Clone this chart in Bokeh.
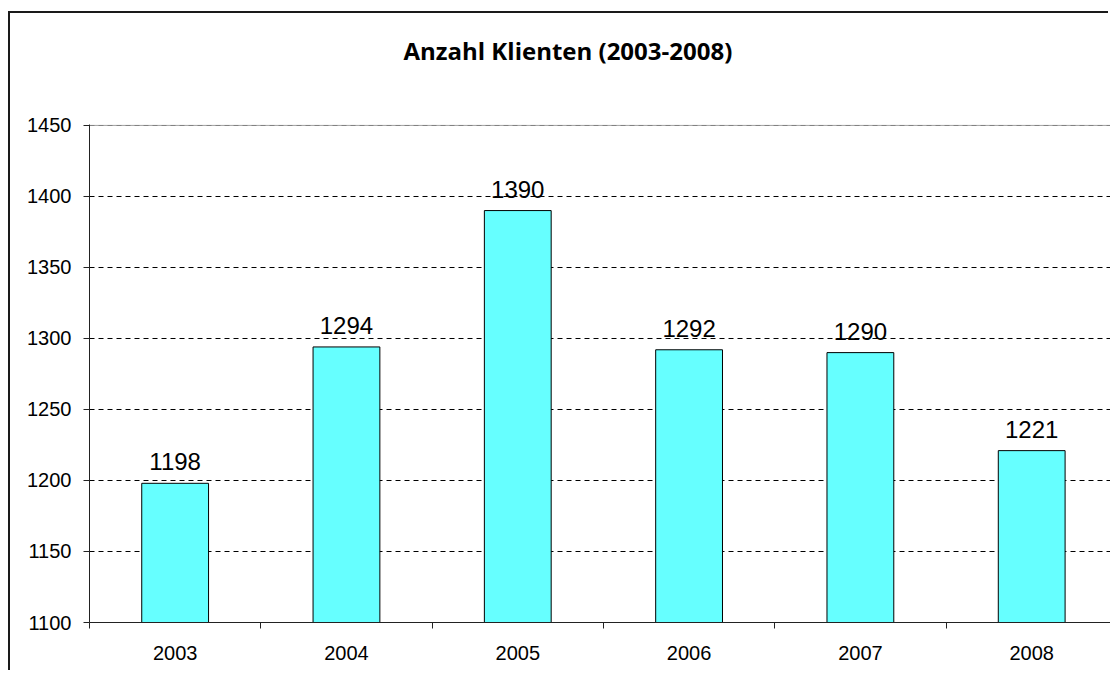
from bokeh.plotting import figure
from bokeh.models import Range1d, FixedTicker, ColumnDataSource, LabelSet, Title, Span
from bokeh.core.properties import value
from bokeh.embed import file_html
from bokeh.resources import INLINE

# ---- data ----
years = ["2003", "2004", "2005", "2006", "2007", "2008"]
clients = [1198, 1294, 1390, 1292, 1290, 1221]
y_ticks = [1100, 1150, 1200, 1250, 1300, 1350, 1400, 1450]
title_text = "Anzahl Klienten (2003-2008)"

idx = list(range(len(years)))
src = ColumnDataSource(dict(x=idx, top=clients, label=[str(v) for v in clients]))

p = figure(width=1100, height=659, output_backend="svg", toolbar_location=None,
           x_range=Range1d(-0.5, 5.46), y_range=Range1d(y_ticks[0], y_ticks[-1] + 0.6),
           min_border_left=79, min_border_top=111, min_border_bottom=50, min_border_right=0)
p.margin = (13, 0, 0, 10)
p.styles = {"box-shadow": "-2px -2px 0 0 #1a1a1a"}
p.title = None

# spacer panel between frame and title, then the title itself
spacer = Title(text=" ", text_font_size="1px", standoff=55)
title = Title(text=title_text, align="left", offset=314, standoff=0,
              vertical_align="bottom", text_font="Open Sans", text_font_size="24px",
              text_font_style="bold", text_color="#000000")
p.above = [spacer, title]

# plot-area top border (grey), under the dashed gridline
p.add_layout(Span(location=y_ticks[-1], dimension="width", line_color="#9a9a9a",
                  line_width=1, level="underlay"))

p.vbar(x="x", top="top", bottom=y_ticks[0], width=0.39, source=src,
       fill_color="#66FFFF", line_color="#000000", line_width=1)

labels = LabelSet(x="x", y="top", text="label", source=src, y_offset=13,
                  text_align="center", text_baseline="alphabetic",
                  text_font=value("Liberation Sans"), text_font_size=value("24px"),
                  text_color="#000000")
p.add_layout(labels)

# grid
p.xgrid.grid_line_color = None
p.ygrid.grid_line_color = "#000000"
p.ygrid.grid_line_dash = "5 4"
p.ygrid.grid_line_width = 1
p.outline_line_color = None
p.background_fill_color = "#FFFFFF"
p.border_fill_color = "#FFFFFF"

# y axis
p.yaxis.ticker = FixedTicker(ticks=y_ticks)
p.yaxis.major_tick_out = 6
p.yaxis.major_tick_in = 0
p.yaxis.minor_tick_out = 0
p.yaxis.minor_tick_in = 0
p.yaxis.major_label_standoff = 12
p.yaxis.major_label_text_font = "Liberation Sans"
p.yaxis.major_label_text_font_size = "20px"
p.yaxis.major_label_text_color = "#000000"
p.yaxis.axis_line_color = "#222222"
p.yaxis.major_tick_line_color = "#222222"

# x axis (categories at integer positions, boundary ticks between)
p.xaxis.ticker = FixedTicker(ticks=idx, minor_ticks=[i - 0.5 for i in idx] + [len(idx) - 0.5])
p.xaxis.major_label_overrides = {i: y for i, y in zip(idx, years)}
p.xaxis.major_tick_out = 0
p.xaxis.major_tick_in = 0
p.xaxis.minor_tick_out = 6
p.xaxis.minor_tick_in = 0
p.xaxis.major_label_standoff = 17
p.xaxis.major_label_text_font = "Liberation Sans"
p.xaxis.major_label_text_font_size = "20px"
p.xaxis.major_label_text_color = "#000000"
p.xaxis.axis_line_color = "#222222"
p.xaxis.minor_tick_line_color = "#222222"

open("out.html", "w").write(file_html(p, INLINE))
